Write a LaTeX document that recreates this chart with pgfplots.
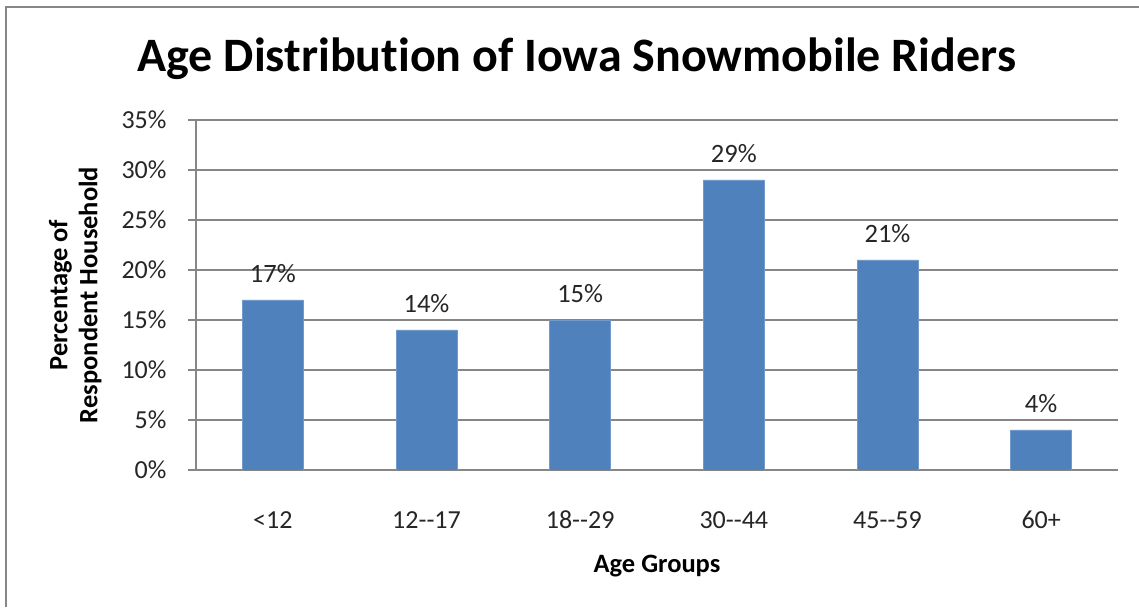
\documentclass[border=0pt]{standalone}
\usepackage{fontspec}
\setmainfont{Carlito}[Ligatures={NoCommon}]
\usepackage{pgfplots}
\pgfplotsset{compat=1.18}
\definecolor{barblue}{RGB}{79,129,189}
\definecolor{gridgray}{RGB}{134,134,134}
\definecolor{framegray}{RGB}{134,134,134}
\begin{document}
\begin{tikzpicture}[x=1pt,y=1pt]
\useasboundingbox[fill=white] (0,0) rectangle (1139,607);
\draw[framegray, line width=2pt] (6,0) -- (6,600) -- (1139,600);
\begin{axis}[
  at={(196pt,137pt)}, anchor=south west,
  scale only axis, width=922pt, height=350pt,
  ymin=0, ymax=35, xmin=-0.5, xmax=5.5,
  axis lines=left, axis line style={-, gridgray, line width=1.3pt},
  ymajorgrids, grid style={gridgray, line width=1.3pt},
  ytick={0,5,...,35},
  yticklabel={\pgfmathprintnumber{\tick}\%},
  xtick={0,...,5},
  xticklabels={{<12},{12-{}-17},{18-{}-29},{30-{}-44},{45-{}-59},{60+}},
  xtick style={draw=none},
  ytick style={gridgray, line width=1.3pt},
  tick align=outside, major tick length=8pt,
  /pgf/number format/assume math mode=true,
  tick label style={font=\fontsize{26}{30}\selectfont, text=black!85},
  xticklabel style={anchor=base, yshift=-50pt},
  yticklabel style={xshift=-18pt, anchor=east},
  title={Age Distribution of Iowa Snowmobile Riders},
  title style={font=\fontsize{48}{54}\selectfont\bfseries, anchor=base, at={(axis description cs:0.413,1.12)}},
  xlabel={Age Groups},
  xlabel style={font=\fontsize{26.5}{30}\selectfont\bfseries, anchor=base, at={(axis description cs:0.5,-0.294)}},
  ylabel={Percentage of\\Respondent Household},
  ylabel style={font=\fontsize{26.5}{30}\selectfont\bfseries, align=center, anchor=center, at={(axis description cs:-0.131,0.5)}},
  nodes near coords={\pgfmathprintnumber{\pgfplotspointmeta}\%},
  nodes near coords style={font=\fontsize{26.5}{30}\selectfont, text=black!85, anchor=base, yshift=17pt, /pgf/number format/assume math mode=true},
]
\addplot[ybar, bar width=61pt, fill=barblue, draw=barblue!80!white] coordinates {
  (0,17) (1,14) (2,15) (3,29) (4,21) (5,4)
};
\end{axis}
\end{tikzpicture}
\end{document}
